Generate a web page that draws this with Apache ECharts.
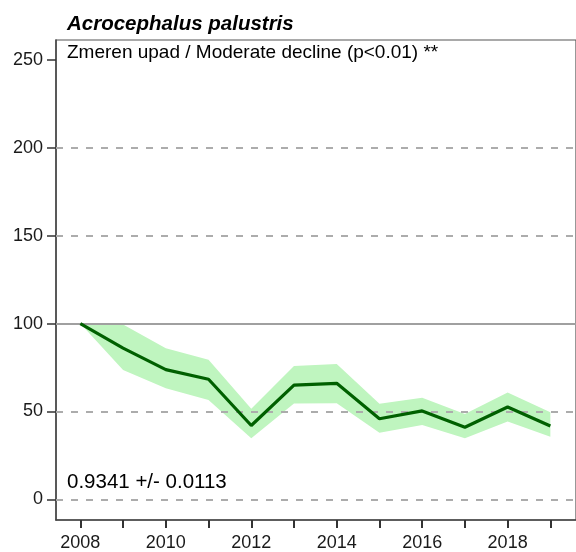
<!DOCTYPE html>
<html>
<head>
<meta charset="utf-8">
<script src="https://cdn.jsdelivr.net/npm/echarts@6/dist/echarts.min.js"></script>
<style>
html,body{margin:0;padding:0;background:#fff;}
#c{width:576px;height:552px;}
</style>
</head>
<body>
<div id="c"></div>
<script>
const years = [2008,2009,2010,2011,2012,2013,2014,2015,2016,2017,2018,2019];
const index = [100,86,73.8,68.3,42,65,66,45.8,50.3,41,52.5,41.7];
const upper = [100,99.5,86,79.4,51.5,75.8,77,54.4,57.8,48.5,60.7,49.5];
const lower = [100,73.6,63.2,56.5,34.7,54.5,54.6,37.8,42.2,34.7,44.2,35.6];
const xTickYears = [2008,2009,2010,2011,2012,2013,2014,2015,2016,2017,2018,2019];
const xLabelYears = [2008,2010,2012,2014,2016,2018];
const yTicks = [0,50,100,150,200,250];
const dashedLevels = [0,50,150,200];
const solidLevels = [100];
const titleText = 'Acrocephalus palustris';
const subtitleText = 'Zmeren upad / Moderate decline (p<0.01) **';
const slopeText = '0.9341 +/- 0.0113';

const FONT = '"Liberation Sans", Arial, sans-serif';
const chart = echarts.init(document.getElementById('c'), null, {renderer:'canvas'});

const lineData = years.map((y,i)=>[y, index[i]]);
const bandData = years.map((y,i)=>[y, lower[i], upper[i]]);

const markLines = dashedLevels.map(v=>({yAxis:v, lineStyle:{type:[7,8], color:'#acacac', width:2}}))
  .concat(solidLevels.map(v=>({yAxis:v, lineStyle:{type:'solid', color:'#a0a0a0', width:2}})));

function renderBand(params, api){
  if (params.dataIndex !== 0) return null;
  const pts = [];
  for (let i=0;i<years.length;i++) pts.push(api.coord([years[i], upper[i]]));
  for (let i=years.length-1;i>=0;i--) pts.push(api.coord([years[i], lower[i]]));
  return {type:'polygon', shape:{points:pts}, style:{fill:'#bff5bf', stroke:null}};
}

chart.setOption({
  animation:false,
  backgroundColor:'#fff',
  grid:{left:56, right:-12, top:40, bottom:32, show:true, borderColor:'#555', borderWidth:1.2},
  xAxis:{
    type:'value', min:2007.43, max:2019.6,
    splitLine:{show:false},
    axisLine:{show:true, onZero:false, lineStyle:{color:'#444', width:1.5}},
    axisTick:{show:true, customValues:xTickYears, length:8, inside:false, lineStyle:{color:'#333', width:2}},
    axisLabel:{customValues:xLabelYears, color:'#1a1a1a', fontSize:18, fontFamily:FONT, margin:14, formatter:v=>String(v)}
  },
  yAxis:{
    type:'value', min:-11.8, max:261.4,
    splitLine:{show:false},
    axisLine:{show:true, onZero:false, lineStyle:{color:'#444', width:1.5}},
    axisTick:{show:true, customValues:yTicks, length:9, lineStyle:{color:'#333', width:1.5}},
    axisLabel:{customValues:yTicks, color:'#1a1a1a', fontSize:18, fontFamily:FONT, margin:13, formatter:v=>String(v)}
  },
  series:[
    {type:'custom', data:bandData, renderItem:renderBand, silent:true, z:1, clip:true},
    {type:'line', data:lineData, symbol:'none', lineStyle:{opacity:0}, silent:true, z:2,
     markLine:{symbol:'none', silent:true, label:{show:false}, data:markLines}},
    {type:'line', data:lineData, symbol:'none', lineStyle:{color:'#006000', width:3.2}, z:5}
  ],
  graphic:[
    {type:'text', left:67, top:14, style:{text:titleText, font:'italic bold 20.5px '+FONT, fill:'#000'}},
    {type:'text', left:67, top:43, style:{text:subtitleText, font:'19px '+FONT, fill:'#000'}},
    {type:'text', left:67, top:472, style:{text:slopeText, font:'20.5px '+FONT, fill:'#000'}}
  ]
});
</script>
</body>
</html>
